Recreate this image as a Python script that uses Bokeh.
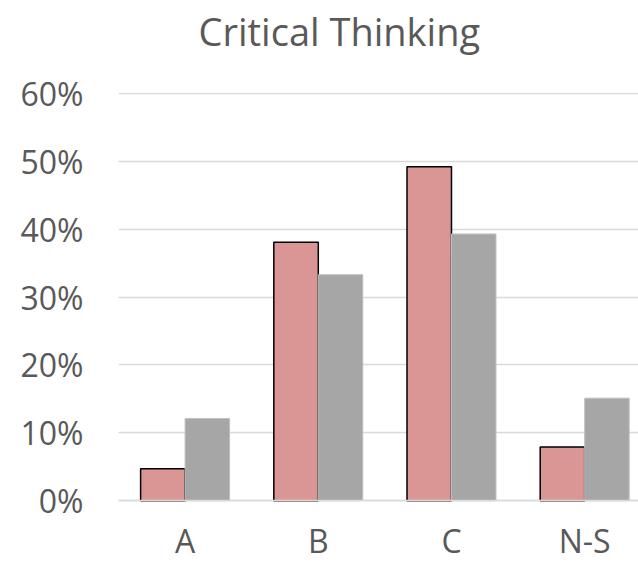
from bokeh.plotting import figure
from bokeh.models import ColumnDataSource, Range1d, NumeralTickFormatter, FixedTicker
from bokeh.transform import dodge
from bokeh.embed import file_html
from bokeh.resources import INLINE

categories = ["A", "B", "C", "N-S"]
series_1 = [0.047, 0.381, 0.492, 0.079]
series_2 = [0.121, 0.333, 0.393, 0.151]
y_ticks = [0, 0.1, 0.2, 0.3, 0.4, 0.5, 0.6]

positions = list(range(len(categories)))
source = ColumnDataSource(dict(x=positions, cat=categories, s1=series_1, s2=series_2))

p = figure(width=638, height=563, output_backend="svg", toolbar_location=None,
           x_range=Range1d(-0.5, 3.404),
           y_range=Range1d(-0.0926, 0.6015),
           min_border_left=118, min_border_right=0, min_border_top=92, min_border_bottom=0)
p.title.text = "Critical Thinking"
p.title.align = "left"
p.title.offset = 80
p.title.text_font = "Open Sans"
p.title.text_font_size = "38px"
p.title.text_font_style = "normal"
p.title.text_color = "#595959"
p.title.standoff = 0
if "padding" in p.title.properties():
    p.title.padding = dict(left=0, right=0, top=0, bottom=36)

bw = 0.334
p.vbar(x=dodge("x", -bw / 2), top="s1", width=bw, source=source,
       fill_color="#D99694", line_color="black", line_width=1.5)
p.vbar(x=dodge("x", bw / 2), top="s2", width=bw, source=source,
       fill_color="#A6A6A6", line_color="#BFBFBF", line_width=1)

p.outline_line_color = None
p.background_fill_color = "white"
p.border_fill_color = "white"

p.yaxis.ticker = FixedTicker(ticks=y_ticks)
p.yaxis.formatter = NumeralTickFormatter(format="0%")
p.yaxis.axis_line_color = None
p.yaxis.major_tick_line_color = None
p.yaxis.minor_tick_line_color = None
p.yaxis.major_tick_out = 0
p.yaxis.major_label_text_font = "Open Sans"
p.yaxis.major_label_text_font_size = "32px"
p.yaxis.major_label_text_color = "#595959"
p.yaxis.major_label_standoff = 35

p.xaxis.fixed_location = 0
p.xaxis.ticker = FixedTicker(ticks=positions)
p.xaxis.major_label_overrides = {i: c for i, c in zip(positions, categories)}
p.xaxis.axis_line_color = "#D9D9D9"
p.xaxis.axis_line_width = 1.5
p.xaxis.major_tick_line_color = None
p.xaxis.minor_tick_line_color = None
p.xaxis.major_tick_out = 0
p.xaxis.major_label_text_font = "Open Sans"
p.xaxis.major_label_text_font_size = "32px"
p.xaxis.major_label_text_color = "#595959"
p.xaxis.major_label_standoff = 18

p.xgrid.grid_line_color = None
p.ygrid.grid_line_color = "#D9D9D9"
p.ygrid.grid_line_width = 1.5

open("out.html", "w").write(file_html(p, INLINE))
